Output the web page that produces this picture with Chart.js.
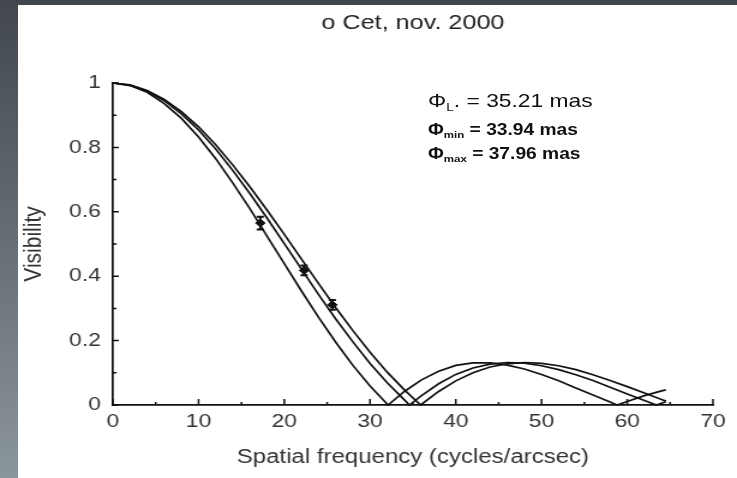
<!DOCTYPE html>
<html lang="en">
<head>
    <meta charset="UTF-8">
    <title>o Cet visibility</title>
    <script src="https://cdn.jsdelivr.net/npm/chart.js"></script>
    <style>
        html, body {
            margin: 0;
            padding: 0;
            width: 737px;
            height: 478px;
            overflow: hidden;
        }
        body {
            background: linear-gradient(#41474d, #8b959c);
            position: relative;
            font-family: "Liberation Sans", Arial, sans-serif;
        }
        #panel {
            position: absolute;
            left: 18px;
            top: 5px;
            width: 719px;
            height: 473px;
            background: #fff;
        }
        /* the original figure is stretched sideways, so is this one */
        #chart {
            width: 719px;
            height: 473px;
        }
        .ann {
            position: absolute;
            left: 428px;
            color: #111;
            line-height: 1;
            white-space: nowrap;
            transform: scaleX(1.2);
            transform-origin: 0 0;
        }
        .ann sub { font-size: 60%; vertical-align: -0.35em; }
        #a1 { top: 91px; font-size: 19px; }
        #a2 { top: 122px; font-size: 16px; font-weight: bold; }
        #a3 { top: 146px; font-size: 16px; font-weight: bold; }
    </style>
</head>
<body>
<div id="panel">
    <canvas id="chart" width="599" height="473" style="width:719px;height:473px"></canvas>
</div>
<div class="ann" id="a1">&Phi;<sub>L</sub>. = 35.21 mas</div>
<div class="ann" id="a2">&Phi;<sub>min</sub> = 33.94 mas</div>
<div class="ann" id="a3">&Phi;<sub>max</sub> = 37.96 mas</div>
<script>
    // curves for the three diameters (cycles/arcsec vs visibility)
    let freqL = [0,2,4,6,8,10,12,14,16,18,20,22,24,26,28,30,32,34,34.6,36,38,40,42,44,46,48,50,52,54,56,58,60,62,63.4,64.5];
    let visL = [1,0.993,0.975,0.945,0.904,0.854,0.795,0.728,0.656,0.580,0.501,0.422,0.343,0.267,0.196,0.129,0.069,0.016,0,0.029,0.066,0.095,0.115,0.127,0.132,0.130,0.122,0.110,0.094,0.076,0.055,0.034,0.014,0,0.010];

    let freqMin = [0,2,4,6,8,10,12,14,16,18,20,22,24,26,28,30,32,34,35.9,38,40,42,44,46,48,50,52,54,56,58,60,62,64,64.5];
    let visMin = [1,0.994,0.977,0.949,0.911,0.864,0.808,0.745,0.677,0.605,0.530,0.453,0.377,0.302,0.231,0.164,0.102,0.047,0,0.042,0.075,0.100,0.118,0.128,0.132,0.129,0.122,0.110,0.094,0.076,0.057,0.037,0.017,0.012];

    let freqMax = [0,2,4,6,8,10,12,14,16,18,20,22,24,26,28,30,32.1,34,36,38,40,42,44,46,48,50,52,54,56,58,58.8,60,62,64,64.5];
    let visMax = [1,0.992,0.971,0.936,0.890,0.832,0.765,0.689,0.609,0.524,0.439,0.354,0.272,0.195,0.123,0.059,0,0.042,0.078,0.105,0.123,0.131,0.131,0.124,0.112,0.095,0.075,0.053,0.031,0.009,0,0.011,0.029,0.044,0.047];

    // measured points
    let obsFreq = [17.2, 22.3, 25.6];
    let obsVis = [0.565, 0.418, 0.311];
    let obsErr = [0.02, 0.015, 0.015];

    let xMajor = [0,10,20,30,40,50,60,70];
    let xMinor = [5,15,25,35,45,55,65];
    let yMajor = [0,0.2,0.4,0.6,0.8,1];
    let yMinor = [0.1,0.3,0.5,0.7,0.9];
    let yLabels = ['0','0.2','0.4','0.6','0.8','1'];

    let titleText = "\u03bf Cet, nov. 2000";

    function toPoints(xs, ys) {
        return xs.map((x, i) => ({x: x, y: ys[i]}));
    }

    function curve(xs, ys) {
        return {
            data: toPoints(xs, ys),
            showLine: true,
            borderColor: '#111',
            borderWidth: 1.7,
            pointRadius: 0,
            tension: 0,
            clip: false
        };
    }

    // inward ticks, error bars and the title
    const extras = {
        id: 'extras',
        afterDatasetsDraw(chart) {
            const ctx = chart.ctx;
            const xs = chart.scales.x, ys = chart.scales.y;
            const area = chart.chartArea;
            ctx.save();
            ctx.strokeStyle = '#111';
            ctx.lineWidth = 1.5;
            ctx.beginPath();
            xMajor.forEach(v => { let p = xs.getPixelForValue(v); ctx.moveTo(p, area.bottom); ctx.lineTo(p, area.bottom - 6); });
            xMinor.forEach(v => { let p = xs.getPixelForValue(v); ctx.moveTo(p, area.bottom); ctx.lineTo(p, area.bottom - 3); });
            yMajor.forEach(v => { let p = ys.getPixelForValue(v); ctx.moveTo(area.left, p); ctx.lineTo(area.left + 5, p); });
            yMinor.forEach(v => { let p = ys.getPixelForValue(v); ctx.moveTo(area.left, p); ctx.lineTo(area.left + 3, p); });
            ctx.stroke();

            ctx.lineWidth = 2;
            ctx.beginPath();
            obsFreq.forEach((f, i) => {
                let px = xs.getPixelForValue(f);
                let lo = ys.getPixelForValue(obsVis[i] - obsErr[i]);
                let hi = ys.getPixelForValue(obsVis[i] + obsErr[i]);
                ctx.moveTo(px, lo); ctx.lineTo(px, hi);
                ctx.moveTo(px - 3, lo); ctx.lineTo(px + 3, lo);
                ctx.moveTo(px - 3, hi); ctx.lineTo(px + 3, hi);
            });
            ctx.stroke();

            ctx.fillStyle = '#222';
            ctx.font = '21px "Liberation Sans", Arial';
            ctx.textAlign = 'center';
            ctx.textBaseline = 'middle';
            ctx.fillText(titleText, (area.left + area.right) / 2, 18);
            ctx.restore();
        }
    };

    const tickFont = {family: '"Liberation Sans", Arial', size: 19};

    new Chart(document.getElementById('chart'), {
        type: 'scatter',
        data: {
            datasets: [
                curve(freqL, visL),
                curve(freqMin, visMin),
                curve(freqMax, visMax),
                {
                    data: toPoints(obsFreq, obsVis),
                    pointStyle: 'rectRot',
                    pointRadius: 4,
                    backgroundColor: '#111',
                    borderColor: '#111',
                    clip: false
                }
            ]
        },
        options: {
            responsive: false,
            animation: false,
            events: [],
            layout: {padding: {top: 78, right: 20, left: 0, bottom: 0}},
            plugins: {
                legend: {display: false},
                tooltip: {enabled: false}
            },
            scales: {
                x: {
                    type: 'linear',
                    min: 0,
                    max: 70,
                    afterFit(scale) { scale.height = 73; },
                    ticks: {stepSize: 10, padding: 5, color: '#333', font: tickFont, maxRotation: 0},
                    grid: {display: false, drawTicks: false},
                    border: {display: true, color: '#111', width: 1.7},
                    title: {display: true, text: 'Spatial frequency (cycles/arcsec)', color: '#333',
                        font: {family: '"Liberation Sans", Arial', size: 20}, padding: {top: 0, bottom: 9}}
                },
                y: {
                    min: 0,
                    max: 1,
                    afterFit(scale) { scale.width = 79; },
                    ticks: {
                        stepSize: 0.2, padding: 10, color: '#333', font: tickFont,
                        callback: (v, i) => yLabels[i]
                    },
                    grid: {display: false, drawTicks: false},
                    border: {display: true, color: '#111', width: 1.7},
                    title: {display: true, text: 'Visibility', color: '#333',
                        font: {family: '"Liberation Sans", Arial', size: 21}, padding: {top: 1, bottom: 0}}
                }
            }
        },
        plugins: [extras]
    });
</script>
</body>
</html>
